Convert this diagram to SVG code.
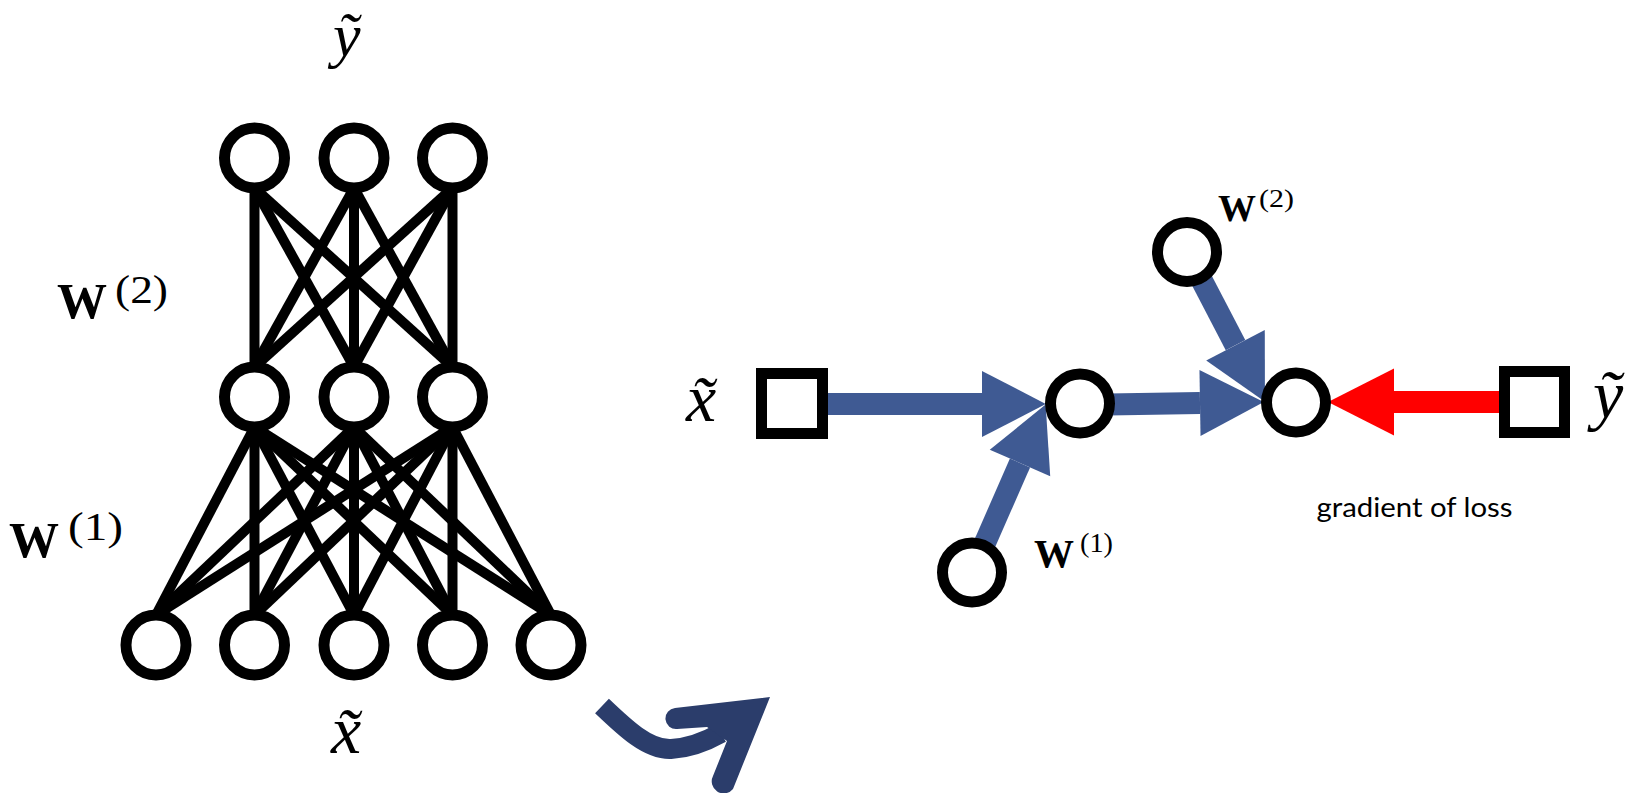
<svg xmlns="http://www.w3.org/2000/svg" width="1628" height="793" viewBox="0 0 1628 793">
  <style>
    .node { fill: #ffffff; stroke: #000000; stroke-width: 11; }
    .edge { stroke: #000000; stroke-width: 10; fill: none; }
    .math { font-family: "Liberation Serif", "DejaVu Serif", serif; font-style: italic; fill: #000000; }
    .bold { font-family: "Liberation Serif", "DejaVu Serif", serif; font-weight: bold; fill: #000000; }
    .sup { font-family: "Liberation Serif", "DejaVu Serif", serif; fill: #000000; }
    .flow { stroke: #3F5A93; stroke-width: 22; fill: none; }
    .loss { stroke: #FF0000; stroke-width: 22; fill: none; }
    .caption { font-family: Lato, "Open Sans", sans-serif; font-size: 27px; fill: #000000; }
  </style>
  <defs>
    <marker id="head-blue" markerUnits="strokeWidth" markerWidth="2.9" markerHeight="3" refX="0" refY="1.5" orient="auto" overflow="visible">
      <path d="M0,0 L2.9,1.5 L0,3 Z" fill="#3F5A93"/>
    </marker>
    <marker id="head-red" markerUnits="strokeWidth" markerWidth="3" markerHeight="3.05" refX="0" refY="1.525" orient="auto" overflow="visible">
      <path d="M0,0 L3,1.525 L0,3.05 Z" fill="#FF0000"/>
    </marker>
  </defs>

  <!-- fully connected network: connectors -->
  <g id="network-edges">
    <!-- W(2): hidden layer to output layer -->
    <line class="edge" x1="254.5" y1="188" x2="254.5" y2="367"/>
    <line class="edge" x1="254.5" y1="188" x2="354" y2="367"/>
    <line class="edge" x1="254.5" y1="188" x2="452.5" y2="367"/>
    <line class="edge" x1="354" y1="188" x2="254.5" y2="367"/>
    <line class="edge" x1="354" y1="188" x2="354" y2="367"/>
    <line class="edge" x1="354" y1="188" x2="452.5" y2="367"/>
    <line class="edge" x1="452.5" y1="188" x2="254.5" y2="367"/>
    <line class="edge" x1="452.5" y1="188" x2="354" y2="367"/>
    <line class="edge" x1="452.5" y1="188" x2="452.5" y2="367"/>
    <!-- W(1): input layer to hidden layer -->
    <line class="edge" x1="254.5" y1="427" x2="156" y2="615"/>
    <line class="edge" x1="254.5" y1="427" x2="254.5" y2="615"/>
    <line class="edge" x1="254.5" y1="427" x2="354" y2="615"/>
    <line class="edge" x1="254.5" y1="427" x2="452.5" y2="615"/>
    <line class="edge" x1="254.5" y1="427" x2="551" y2="615"/>
    <line class="edge" x1="354" y1="427" x2="156" y2="615"/>
    <line class="edge" x1="354" y1="427" x2="254.5" y2="615"/>
    <line class="edge" x1="354" y1="427" x2="354" y2="615"/>
    <line class="edge" x1="354" y1="427" x2="452.5" y2="615"/>
    <line class="edge" x1="354" y1="427" x2="551" y2="615"/>
    <line class="edge" x1="452.5" y1="427" x2="156" y2="615"/>
    <line class="edge" x1="452.5" y1="427" x2="254.5" y2="615"/>
    <line class="edge" x1="452.5" y1="427" x2="354" y2="615"/>
    <line class="edge" x1="452.5" y1="427" x2="452.5" y2="615"/>
    <line class="edge" x1="452.5" y1="427" x2="551" y2="615"/>
  </g>

  <!-- output layer -->
  <g id="output-layer">
    <circle class="node" cx="254.5" cy="158" r="30"/>
    <circle class="node" cx="354" cy="158" r="30"/>
    <circle class="node" cx="452.5" cy="158" r="30"/>
  </g>
  <!-- hidden layer -->
  <g id="hidden-layer">
    <circle class="node" cx="254.5" cy="397" r="30"/>
    <circle class="node" cx="354" cy="397" r="30"/>
    <circle class="node" cx="452.5" cy="397" r="30"/>
  </g>
  <!-- input layer -->
  <g id="input-layer">
    <circle class="node" cx="156" cy="645" r="30"/>
    <circle class="node" cx="254.5" cy="645" r="30"/>
    <circle class="node" cx="354" cy="645" r="30"/>
    <circle class="node" cx="452.5" cy="645" r="30"/>
    <circle class="node" cx="551" cy="645" r="30"/>
  </g>

  <!-- network labels -->
  <g id="network-labels">
    <text class="math" x="333" y="56" font-size="62">ỹ</text>
    <text class="math" x="331" y="753" font-size="68">x&#x0303;</text>
    <text class="bold" x="57" y="318" font-size="50">W</text>
    <text class="sup" x="115" y="303" font-size="40" textLength="53" lengthAdjust="spacingAndGlyphs">(2)</text>
    <text class="bold" x="9" y="557" font-size="50">W</text>
    <text class="sup" x="68" y="540" font-size="40" textLength="55" lengthAdjust="spacingAndGlyphs">(1)</text>
  </g>

  <!-- transition arrow -->
  <g id="transition-arrow" fill="#2B3D6B">
    <path d="M602,706 C625,728 648,750 671,749 C690,748 705,742 721,733" stroke="#2B3D6B" stroke-width="20" fill="none"/>
    <path d="M770,697 L675,708 A10.5,10.5 0 0 0 677,729 L707,727 L727,741 L713,776 A12,12 0 0 0 733,789 Z"/>
  </g>

  <!-- computation graph: connectors -->
  <g id="graph-edges">
    <line class="flow" x1="822" y1="404" x2="982" y2="404" marker-end="url(#head-blue)"/>
    <line class="flow" x1="1108" y1="404.5" x2="1200" y2="403" marker-end="url(#head-blue)"/>
    <line class="flow" x1="972" y1="572.5" x2="1020" y2="463" marker-end="url(#head-blue)"/>
    <line class="flow" x1="1187" y1="252" x2="1235.5" y2="345.2" marker-end="url(#head-blue)"/>
    <line class="loss" x1="1505" y1="402" x2="1394" y2="402" marker-end="url(#head-red)"/>
  </g>

  <!-- computation graph: nodes -->
  <g id="input-x">
    <rect class="node" x="761.5" y="373.5" width="61" height="60"/>
    <text class="math" x="686" y="421" font-size="68">x&#x0303;</text>
  </g>
  <g id="hidden-h">
    <circle class="node" cx="1080" cy="403.5" r="29.5"/>
  </g>
  <g id="output-f">
    <circle class="node" cx="1296" cy="402.5" r="29.5"/>
  </g>
  <g id="weight-w1">
    <circle class="node" cx="972" cy="572.5" r="29.5"/>
    <text class="bold" x="1034" y="567" font-size="40">W</text>
    <text class="sup" x="1080" y="552" font-size="27" textLength="33" lengthAdjust="spacingAndGlyphs">(1)</text>
  </g>
  <g id="weight-w2">
    <circle class="node" cx="1187" cy="252" r="29.5"/>
    <text class="bold" x="1218" y="221" font-size="38">W</text>
    <text class="sup" x="1259" y="207" font-size="26" textLength="35" lengthAdjust="spacingAndGlyphs">(2)</text>
  </g>
  <g id="target-y">
    <rect class="node" x="1504.5" y="371.5" width="60" height="61"/>
    <text class="math" x="1593" y="418" font-size="68">ỹ</text>
  </g>
  <g id="loss-label">
    <text class="caption" x="1316.5" y="517" textLength="196" lengthAdjust="spacingAndGlyphs">gradient of loss</text>
  </g>
</svg>
